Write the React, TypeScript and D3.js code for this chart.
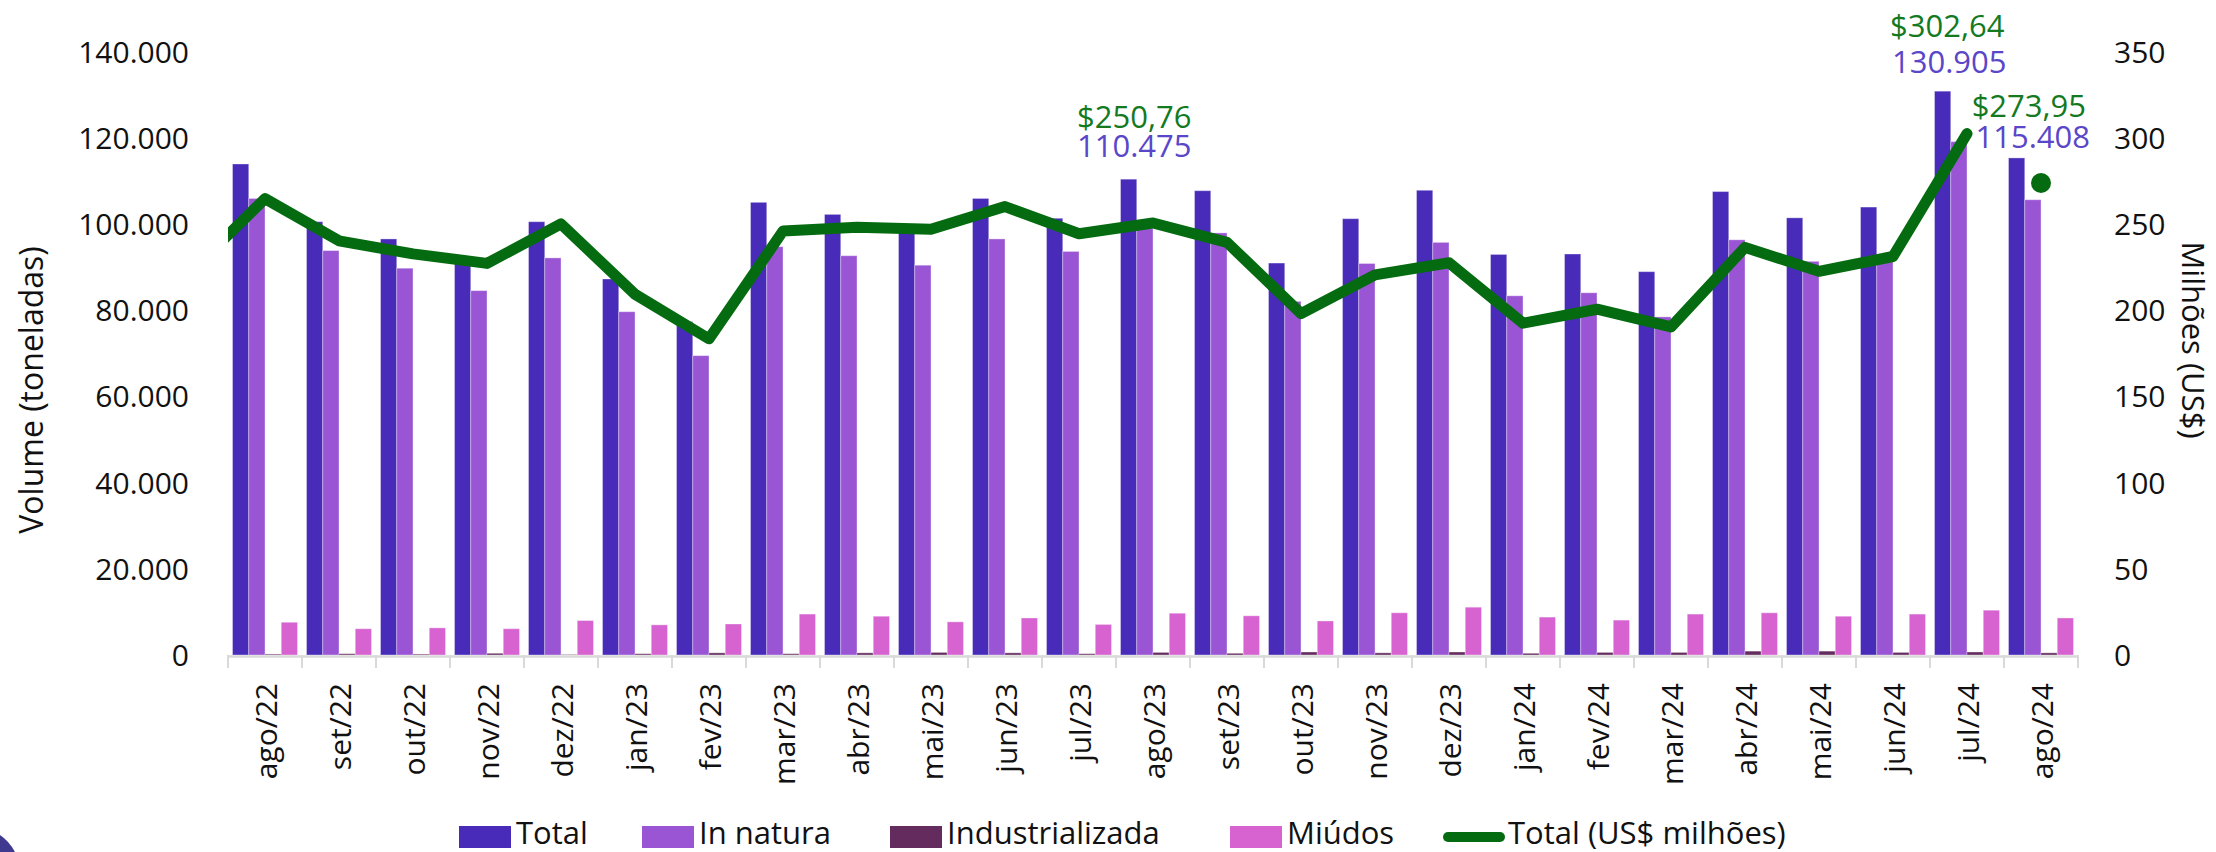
import React from 'react';
import * as d3 from 'd3';

// ---- data ----
const months = [
  'ago/22', 'set/22', 'out/22', 'nov/22', 'dez/22', 'jan/23', 'fev/23', 'mar/23', 'abr/23',
  'mai/23', 'jun/23', 'jul/23', 'ago/23', 'set/23', 'out/23', 'nov/23', 'dez/23', 'jan/24',
  'fev/24', 'mar/24', 'abr/24', 'mai/24', 'jun/24', 'jul/24', 'ago/24',
];
// volumes in toneladas
const totalVol = [
  114000, 100600, 96600, 92300, 100600, 87300, 77400, 105100, 102300,
  98800, 106000, 101400, 110475, 107800, 91000, 101300, 107900, 93000,
  93100, 89000, 107600, 101500, 104000, 130905, 115408,
];
const inNaturaVol = [
  106000, 93900, 89800, 84600, 92200, 79700, 69500, 94800, 92700,
  90500, 96600, 93700, 99000, 98000, 82100, 90900, 95800, 83400,
  84100, 78500, 96400, 91400, 92500, 119200, 105700,
];
const industrializadaVol = [
  200, 300, 200, 400, 100, 300, 500, 300, 500,
  600, 500, 300, 600, 400, 700, 500, 700, 400,
  600, 600, 900, 900, 600, 700, 500,
];
const miudosVol = [
  7600, 6100, 6300, 6100, 8000, 7000, 7200, 9500, 9000,
  7700, 8600, 7100, 9700, 9100, 7900, 9800, 11100, 8800,
  8100, 9500, 9800, 9000, 9500, 10400, 8600,
];
// value in US$ milhões
const totalUsd = [
  264.9, 240.4, 232.8, 227.3, 250.2, 209.4, 183.5, 246.1, 248.3,
  247.1, 260.3, 244.5, 250.76, 239.5, 198.2, 220.6, 227.7, 192.6,
  200.7, 190.4, 236.6, 222.7, 231.3, 302.64, 273.95,
];
// preceding month (jul/22), only its segment entering the plot is visible
const usdLeadIn = 222.6;
const lineMonths = months.slice(0, 24); // ago/24 shown as a single marker
const markerMonth = 'ago/24';
const annotatedMonths = ['ago/23', 'jul/24', 'ago/24'];

const leftTicks = [0, 20000, 40000, 60000, 80000, 100000, 120000, 140000];
const rightTicks = [0, 50, 100, 150, 200, 250, 300, 350];

const seriesNames = ['Total', 'In natura', 'Industrializada', 'Miúdos'];
const lineName = 'Total (US$ milhões)';

// ---- styles ----
const COLORS = ['#482cb9', '#9955d4', '#642c5e', '#d663d0'];
const GREEN = '#056b10';
const ANN_GREEN = '#137a1f';
const ANN_PURPLE = '#5a46c9';
const FONT = "'Open Sans', sans-serif";

const W = 2216;
const H = 852;
const PLOT_L = 228;
const PLOT_R = 2078;
const Y0 = 655;
const YT = 52;

const ptBR = d3.formatLocale({ decimal: ',', thousands: '.', grouping: [3], currency: ['$', ''] });
const fmtVol = ptBR.format(',d');
const fmtUsd = ptBR.format('$,.2f');

// annotation layout (offsets from band centre / bar top)
const annLayout = [
  { anchor: 'start', dxG: -76, dxP: -76, dyG: -51, dyP: -22 },
  { anchor: 'start', dxG: -77, dxP: -75, dyG: -54, dyP: -18 },
  { anchor: 'end', dxG: 45, dxP: 49, dyG: -41, dyP: -10 },
];

const legendX = [459, 642, 890, 1230, 1443];

export default function App() {
  const x = d3.scaleBand<string>().domain(months).range([PLOT_L, PLOT_R]).paddingInner(0).paddingOuter(0);
  const bw = x.bandwidth();
  const inner = d3.scaleBand<string>().domain(seriesNames).range([4.5, bw - 4.5]).padding(0);
  const yL = d3.scaleLinear().domain([0, 140000]).range([Y0, YT]);
  const yR = d3.scaleLinear().domain([0, 350]).range([Y0, YT]);
  const cx = (m: string) => (x(m) as number) + bw / 2;

  const seriesData = [totalVol, inNaturaVol, industrializadaVol, miudosVol];

  const linePts: [number, number][] = [
    [cx(months[0]) - bw, yR(usdLeadIn)],
    ...lineMonths.map((m, i) => [cx(m), yR(totalUsd[i])] as [number, number]),
  ];
  const linePath = d3.line()(linePts) as string;
  const mIdx = months.indexOf(markerMonth);

  const boundaries = d3.range(months.length + 1).map((i) => PLOT_L + i * bw);

  return (
    <svg width={W} height={H} style={{ position: 'absolute', left: 0, top: 0, background: '#fff' }} fontFamily={FONT}>
      <defs>
        <clipPath id="plotClip">
          <rect x={PLOT_L} y={0} width={W - PLOT_L} height={H} />
        </clipPath>
      </defs>
      <rect x={0} y={0} width={W} height={H} fill="#fff" />

      {/* bars */}
      {seriesData.map((vals, si) => (
        <g key={si}>
          {months.map((m, i) => {
            const bx = (x(m) as number) + (inner(seriesNames[si]) as number);
            const yy = yL(vals[i]);
            return (
              <rect
                key={m}
                x={bx}
                y={yy}
                width={inner.bandwidth()}
                height={Y0 - yy}
                fill={COLORS[si]}
                stroke="#ffffff"
                strokeOpacity={0.35}
                strokeWidth={1}
              />
            );
          })}
        </g>
      ))}

      {/* x axis */}
      <line x1={PLOT_L} x2={PLOT_R} y1={Y0 + 1.5} y2={Y0 + 1.5} stroke="#d9d9d9" strokeWidth={2.5} />
      {boundaries.map((b, i) => (
        <line key={i} x1={b} x2={b} y1={Y0} y2={Y0 + 13} stroke="#d9d9d9" strokeWidth={2} />
      ))}
      {months.map((m) => (
        <text
          key={m}
          transform={`translate(${cx(m)},${683}) rotate(-90)`}
          textAnchor="end"
          dominantBaseline="central"
          fontSize={30}
          fill="#111"
        >
          {m}
        </text>
      ))}

      {/* left axis */}
      {leftTicks.map((t) => (
        <text key={t} x={189} y={yL(t)} dy="0.36em" textAnchor="end" fontSize={30} fill="#111">
          {fmtVol(t)}
        </text>
      ))}
      <text transform={`translate(30,${390}) rotate(-90)`} textAnchor="middle" dominantBaseline="central" fontSize={32} fill="#111">
        Volume (toneladas)
      </text>

      {/* right axis */}
      {rightTicks.map((t) => (
        <text key={t} x={2114} y={yR(t)} dy="0.36em" textAnchor="start" fontSize={30} fill="#111">
          {t}
        </text>
      ))}
      <text transform={`translate(2194,${340}) rotate(90)`} textAnchor="middle" dominantBaseline="central" fontSize={31} fill="#111">
        Milhões (US$)
      </text>

      {/* line */}
      <g clipPath="url(#plotClip)">
        <path d={linePath} fill="none" stroke={GREEN} strokeWidth={11} strokeLinejoin="round" strokeLinecap="round" />
      </g>
      <circle cx={cx(markerMonth)} cy={yR(totalUsd[mIdx])} r={10} fill={GREEN} />

      {/* annotations */}
      {annotatedMonths.map((m, k) => {
        const i = months.indexOf(m);
        const L = annLayout[k];
        const top = yL(totalVol[i]);
        return (
          <g key={m} fontSize={31}>
            <text x={cx(m) + L.dxG} y={top + L.dyG} textAnchor={L.anchor} fill={ANN_GREEN}>
              {fmtUsd(totalUsd[i])}
            </text>
            <text x={cx(m) + L.dxP} y={top + L.dyP} textAnchor={L.anchor} fill={ANN_PURPLE}>
              {fmtVol(totalVol[i])}
            </text>
          </g>
        );
      })}

      {/* legend */}
      {seriesNames.map((n, i) => (
        <g key={n}>
          <rect x={legendX[i]} y={826} width={52} height={22} fill={COLORS[i]} />
          <text x={legendX[i] + 57} y={844} fontSize={31} fill="#111">
            {n}
          </text>
        </g>
      ))}
      <line x1={legendX[4] + 5} x2={legendX[4] + 57} y1={837} y2={837} stroke={GREEN} strokeWidth={10} strokeLinecap="round" />
      <text x={legendX[4] + 65} y={844} fontSize={31} fill="#111">
        {lineName}
      </text>

      {/* corner decoration */}
      <path d="M0,835 Q9,841 15,852 L0,852 Z" fill="#3f3a8f" />
    </svg>
  );
}
